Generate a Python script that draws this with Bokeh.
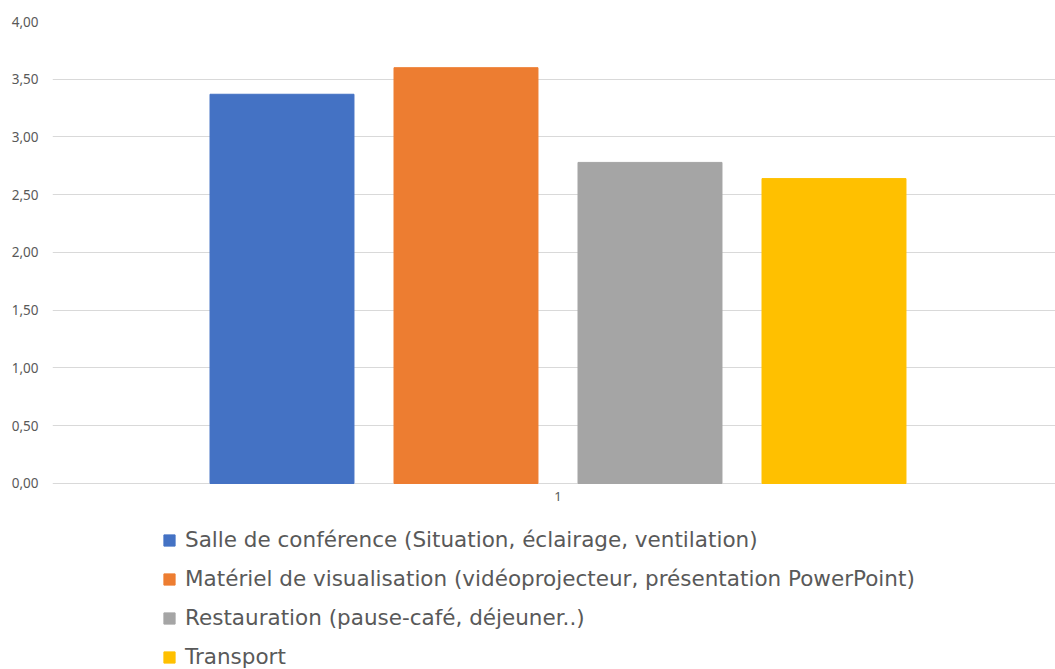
from bokeh.plotting import figure
from bokeh.models import Range1d, FixedTicker, Legend, LegendItem, ColumnDataSource
from bokeh.core.properties import value
from bokeh.embed import file_html
from bokeh.resources import INLINE

categories = ["1"]
series = [
    "Salle de conférence (Situation, éclairage, ventilation)",
    "Matériel de visualisation (vidéoprojecteur, présentation PowerPoint)",
    "Restauration (pause-café, déjeuner..)",
    "Transport",
]
values = [3.37, 3.60, 2.78, 2.64]
colors = ["#4472C4", "#ED7D31", "#A5A5A5", "#FFC000"]
y_ticks = [0, 0.5, 1.0, 1.5, 2.0, 2.5, 3.0, 3.5, 4.0]
y_tick_labels = ["0,00", "0,50", "1,00", "1,50", "2,00", "2,50", "3,00", "3,50", "4,00"]

# frame spans down to the bottom of the canvas; the category baseline is y=0
p = figure(width=1055, height=669, output_backend="svg", toolbar_location=None,
           x_range=Range1d(0.5, 1.4921), y_range=Range1d(-1.6104, 4),
           x_axis_location=None,
           min_border_left=52, min_border_right=0, min_border_top=21,
           min_border_bottom=0)
p.outline_line_color = None
p.background_fill_color = "white"

step = 0.182
bw = 0.1424
n = len(series)
renderers = []
for i, (s, v, c) in enumerate(zip(series, values, colors)):
    src = ColumnDataSource(dict(x=[1 + (i - (n - 1) / 2) * step], top=[v]))
    r = p.vbar(x="x", top="top", width=bw, bottom=0, source=src,
               fill_color=c, line_color=c, line_width=1)
    renderers.append(r)

p.ygrid.grid_line_color = "#d9d9d9"
p.ygrid.grid_line_width = 1
p.xgrid.grid_line_color = None

p.yaxis.ticker = FixedTicker(ticks=y_ticks)
p.yaxis.major_label_overrides = dict(zip(y_ticks, y_tick_labels))
p.yaxis.axis_line_color = None
p.yaxis.major_tick_line_color = None
p.yaxis.minor_tick_line_color = None
p.yaxis.major_label_text_color = "#595959"
p.yaxis.major_label_text_font = "Noto Sans"
p.yaxis.major_label_text_font_size = "13.5px"
p.yaxis.major_label_standoff = 8

# category label under the baseline
cat_src = ColumnDataSource(dict(x=[1], y=[0], t=categories))
p.text(x="x", y="y", text="t", source=cat_src, y_offset=9,
       text_align="center", text_baseline="top", text_color="#595959",
       text_font_size="13px", text_font=value("Noto Sans"))

legend = Legend(items=[LegendItem(label=s, renderers=[r]) for s, r in zip(series, renderers)],
                location=(110, 0), orientation="vertical")
legend.padding = 0
legend.margin = 0
legend.border_line_color = None
legend.background_fill_alpha = 0
legend.glyph_width = 14
legend.glyph_height = 14
legend.label_standoff = 9
legend.label_height = 20
legend.spacing = 14
legend.label_text_font = "DejaVu Sans"
legend.label_text_font_size = "21.5px"
legend.label_text_color = "#595959"
p.add_layout(legend, "center")

open("out.html", "w").write(file_html(p, INLINE))
